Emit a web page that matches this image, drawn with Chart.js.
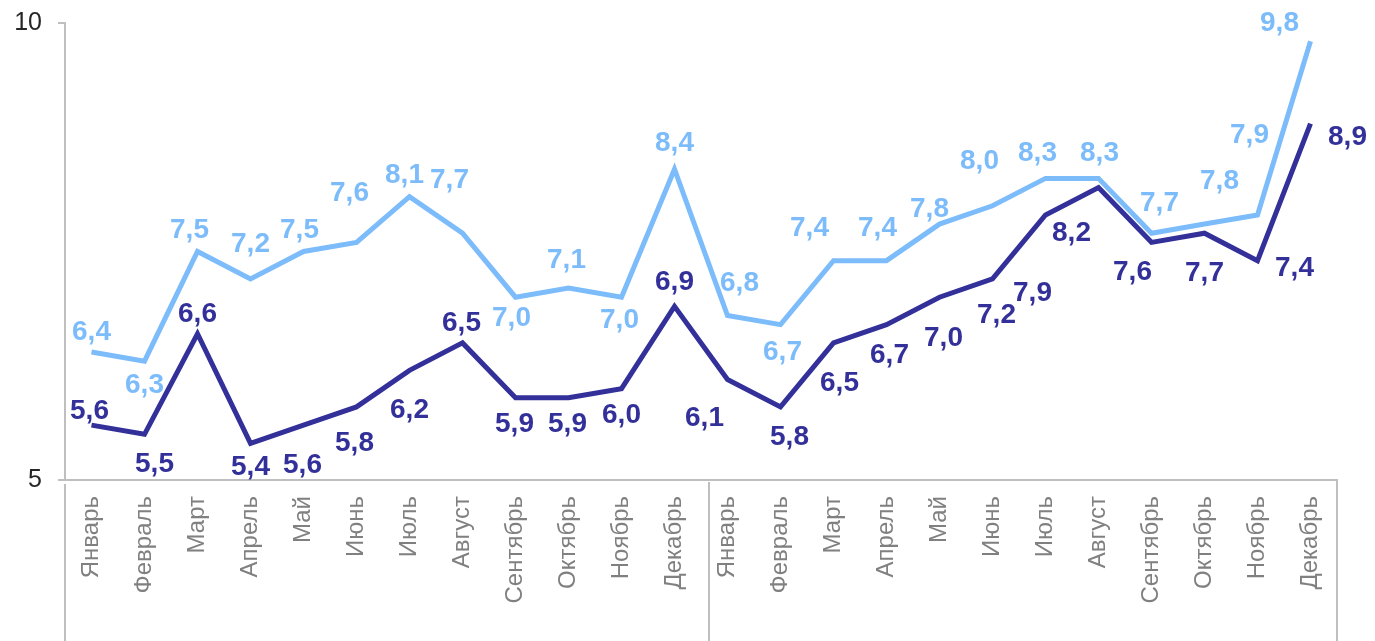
<!DOCTYPE html>
<html>
<head>
<meta charset="utf-8">
<script src="https://cdn.jsdelivr.net/npm/chart.js@4"></script>
<style>
  html, body { margin: 0; padding: 0; background: #fff; }
  #wrap { width: 1375px; height: 641px; position: relative; }
</style>
</head>
<body>
<div id="wrap"><canvas id="LineChart"></canvas></div>
<script>
const months = ["Январь", "Февраль", "Март", "Апрель", "Май", "Июнь", "Июль",
  "Август", "Сентябрь", "Октябрь", "Ноябрь", "Декабрь"];
const categories = months.concat(months);
const lightValues = [6.4, 6.3, 7.5, 7.2, 7.5, 7.6, 8.1, 7.7, 7.0, 7.1, 7.0, 8.4,
  6.8, 6.7, 7.4, 7.4, 7.8, 8.0, 8.3, 8.3, 7.7, 7.8, 7.9, 9.8];
const darkValues = [5.6, 5.5, 6.6, 5.4, 5.6, 5.8, 6.2, 6.5, 5.9, 5.9, 6.0, 6.9,
  6.1, 5.8, 6.5, 6.7, 7.0, 7.2, 7.9, 8.2, 7.6, 7.7, 7.4, 8.9];
const yTicks = [5, 10];

// label placement (dx, dy from the point), picked by eye
const lightLabelOffsets = [[0, -20], [0, 24], [-8, -21], [0, -35], [-4, -21], [-7, -49],
  [-5, -21], [-13, -53], [-4, 21], [-2, -28], [-2, 23], [0, -26],
  [12, -32], [2, 28], [-24, -32], [-9, -32], [-10, -15], [-13, -45],
  [-8, -25], [1, -25], [8, -30], [15, -43], [-8, -80], [-31, -18]];
const darkLabelOffsets = [[-2, -14], [10, 30], [0, -19], [0, 24], [-1, 40], [-2, 36],
  [0, 40], [-1, -20], [-1, 27], [-1, 27], [0, 27], [0, -24],
  [-23, 39], [9, 30], [6, 40], [3, 31], [4, 41], [4, 36],
  [-13, 78], [-27, 46], [-19, 30], [0, 40], [37, 8], [37, 14]];

const darkColor = "#33309a";
const lightColor = "#7dbcfb";
const axisColor = "#bfbfbf";
const fontFamily = "'Liberation Sans', Arial, sans-serif";

function formatValue(v) {
  return v.toFixed(1).replace(".", ",");
}

const pointLabels = {
  id: "pointLabels",
  afterDatasetsDraw(chart) {
    const ctx = chart.ctx;
    ctx.save();
    ctx.font = "bold 28px " + fontFamily;
    ctx.textAlign = "center";
    ctx.textBaseline = "middle";
    chart.data.datasets.forEach((ds, di) => {
      const meta = chart.getDatasetMeta(di);
      meta.data.forEach((pt, i) => {
        const off = ds.labelOffsets[i];
        ctx.fillStyle = ds.borderColor;
        ctx.fillText(formatValue(ds.data[i]), pt.x + off[0], pt.y + off[1]);
      });
    });
    ctx.restore();
  },
};

// year group dividers under the axis
const groupLines = {
  id: "groupLines",
  afterDraw(chart) {
    const ctx = chart.ctx;
    const area = chart.chartArea;
    const x = chart.scales.x;
    const mid = (x.getPixelForValue(11) + x.getPixelForValue(12)) / 2 + 8;
    ctx.save();
    ctx.strokeStyle = axisColor;
    ctx.lineWidth = 2;
    ctx.beginPath();
    ctx.moveTo(area.left, area.bottom + 4);
    ctx.lineTo(area.left, chart.height);
    ctx.moveTo(mid, area.bottom + 2);
    ctx.lineTo(mid, chart.height);
    ctx.moveTo(area.right, area.bottom);
    ctx.lineTo(area.right, chart.height);
    ctx.stroke();
    ctx.restore();
  },
};

new Chart(document.getElementById("LineChart"), {
  type: "line",
  data: {
    labels: categories,
    datasets: [
      {
        label: "dark",
        data: darkValues,
        borderColor: darkColor,
        backgroundColor: darkColor,
        borderWidth: 5,
        pointRadius: 0,
        tension: 0,
        labelOffsets: darkLabelOffsets,
      },
      {
        label: "light",
        data: lightValues,
        borderColor: lightColor,
        backgroundColor: lightColor,
        borderWidth: 5,
        pointRadius: 0,
        tension: 0,
        labelOffsets: lightLabelOffsets,
      },
    ],
  },
  options: {
    responsive: true,
    maintainAspectRatio: false,
    animation: false,
    layout: { padding: { top: 19, right: 38, left: 0, bottom: 0 } },
    plugins: {
      legend: { display: false },
      tooltip: { enabled: false },
    },
    scales: {
      x: {
        offset: true,
        grid: { display: false },
        border: { display: true, color: axisColor, width: 2 },
        ticks: {
          autoSkip: false,
          maxRotation: 90,
          minRotation: 90,
          padding: 8,
          color: "#808080",
          font: { family: fontFamily, size: 24 },
        },
        afterFit(scale) {
          scale.height = 161;
        },
      },
      y: {
        min: yTicks[0],
        max: yTicks[yTicks.length - 1],
        afterBuildTicks(scale) {
          scale.ticks = yTicks.map((v) => ({ value: v }));
        },
        grid: {
          drawOnChartArea: false,
          drawTicks: true,
          tickLength: 7,
          color: axisColor,
          lineWidth: 2,
        },
        border: { display: true, color: axisColor, width: 2 },
        ticks: {
          padding: 16,
          color: "#262626",
          font: { family: fontFamily, size: 25, lineHeight: 0.56 },
        },
        afterFit(scale) {
          scale.width = 65;
        },
      },
    },
  },
  plugins: [pointLabels, groupLines],
});
</script>
</body>
</html>
